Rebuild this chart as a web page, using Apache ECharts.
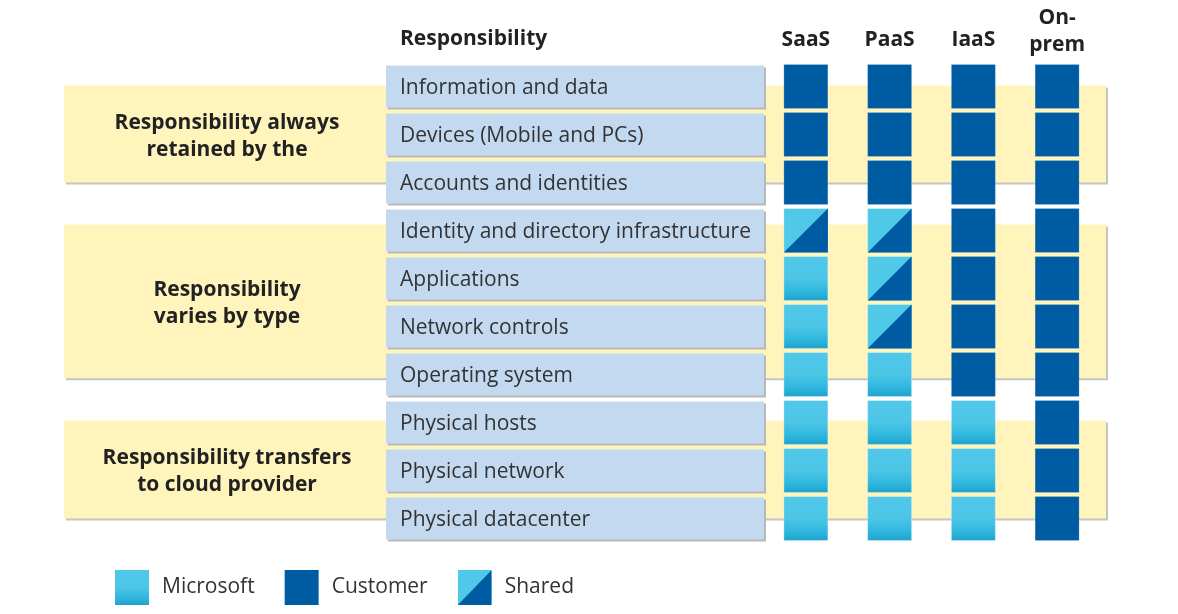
<!DOCTYPE html>
<html><head><meta charset="utf-8">
<script src="https://cdn.jsdelivr.net/npm/echarts@6/dist/echarts.min.js"></script>
<style>html,body{margin:0;padding:0;background:#fff}#c{width:1178px;height:614px}</style>
</head><body><div id="c"></div>
<script>
// ---- data ----
const rows = ['Information and data','Devices (Mobile and PCs)','Accounts and identities',
  'Identity and directory infrastructure','Applications','Network controls','Operating system',
  'Physical hosts','Physical network','Physical datacenter'];
const columns = ['SaaS','PaaS','IaaS','On-prem'];
// M = Microsoft, C = Customer, S = Shared  (one string per row, one letter per column)
const matrix = ['CCCC','CCCC','CCCC','SSCC','MSCC','MSCC','MMCC','MMMC','MMMC','MMMC'];
const groupNames = ['Responsibility always\nretained by the','Responsibility\nvaries by type','Responsibility transfers\nto cloud provider'];
const groupStart = [-0.02, 2.875, 6.96];
const groupEnd = [2.0, 6.08, 9.0];
const legendNames = ['Microsoft','Customer','Shared'];

// ---- style ----
const FONT = "'Segoe UI','Open Sans','Noto Sans',sans-serif";
const DARK = '#005CA2', LIGHT = '#50C8E8';
const msGrad = () => new echarts.graphic.LinearGradient(0,0,0,1,[{offset:0,color:'#52C8E9'},{offset:0.5,color:'#4CC5E7'},{offset:0.8,color:'#2EB6DE'},{offset:1,color:'#1FA2CB'}]);
const TILE = 44;
const L = {top:62.5, height:480, bandLeft:64, bandRight:1106, labelLeft:386, labelRight:764, tileLeft:764, tileWidth:335};

const cellsOf = t => { const out=[]; matrix.forEach((r,ri)=>{ r.split('').forEach((v,ci)=>{ if(v===t) out.push([ci,ri]); }); }); return out; };

function tileItem(type){
  return function(params, api){
    const p = api.coord([api.value(0), api.value(1)]);
    const x = p[0]-TILE/2, y = p[1]-TILE/2;
    if(type==='C'){
      return {type:'rect', shape:{x,y,width:TILE,height:TILE}, style:{fill:DARK, stroke:'rgba(255,255,255,0.18)', lineWidth:1}};
    }
    if(type==='M'){
      return {type:'rect', shape:{x,y,width:TILE,height:TILE}, style:{fill:msGrad(), stroke:'rgba(255,255,255,0.3)', lineWidth:1}};
    }
    return {type:'group', children:[
      {type:'rect', shape:{x,y,width:TILE,height:TILE}, style:{fill:LIGHT, stroke:'rgba(255,255,255,0.3)', lineWidth:1}},
      {type:'polygon', shape:{points:[[x,y+TILE],[x+TILE,y+TILE],[x+TILE,y]]}, style:{fill:DARK}}
    ]};
  };
}

const sharedIcon = 'image://data:image/svg+xml;charset=utf-8,' + encodeURIComponent(
  "<svg xmlns='http://www.w3.org/2000/svg' width='34' height='35'><rect width='34' height='35' fill='"+LIGHT+"'/><polygon points='0,35 34,35 34,0' fill='"+DARK+"'/></svg>");

const chart = echarts.init(document.getElementById('c'), null, {renderer:'canvas'});
const option = {
  animation:false,
  title:{text:'Responsibility', left:395, top:24, textStyle:{fontFamily:FONT, fontSize:21, fontWeight:'bold', color:'#222'}},
  legend:{
    left:110, top:565, itemWidth:34, itemHeight:35, itemGap:30, selectedMode:false,
    textStyle:{fontFamily:FONT, fontSize:21, color:'#333', padding:[0,0,0,8]},
    data:[
      {name:legendNames[0], icon:'rect', itemStyle:{color:msGrad()}},
      {name:legendNames[1], icon:'rect', itemStyle:{color:DARK}},
      {name:legendNames[2], icon:sharedIcon}
    ]
  },
  grid:[
    {left:L.bandLeft, width:L.bandRight-L.bandLeft, top:L.top, height:L.height, outerBoundsMode:'none', containLabel:false},
    {left:L.labelLeft, width:L.labelRight-L.labelLeft, top:L.top, height:L.height, outerBoundsMode:'none', containLabel:false},
    {left:L.tileLeft, width:L.tileWidth, top:L.top, height:L.height, outerBoundsMode:'none', containLabel:false}
  ],
  xAxis:[
    {gridIndex:0, type:'value', min:0, max:1, show:false},
    {gridIndex:1, type:'value', min:0, max:1, show:false},
    {gridIndex:2, type:'category', data:columns, position:'top',
      axisLine:{show:false}, axisTick:{show:false}, splitLine:{show:false},
      axisLabel:{interval:0, hideOverlap:false, margin:4, fontFamily:FONT, fontSize:21, fontWeight:'bold', color:'#222', lineHeight:27,
        formatter:v=> v==='On-prem' ? '{m|On-}\n{m|prem}' : '{m|'+v+'}\n{g| }',
        rich:{
          m:{fontFamily:FONT, fontSize:21, fontWeight:'bold', color:'#222', lineHeight:27},
          g:{fontSize:2, lineHeight:5}
        }}}
  ],
  yAxis:[
    {gridIndex:0, type:'value', min:-0.5, max:rows.length-0.5, inverse:true, show:false},
    {gridIndex:1, type:'category', data:rows, inverse:true, show:false},
    {gridIndex:2, type:'category', data:rows, inverse:true, show:false}
  ],
  series:[
    {type:'custom', name:'bands', xAxisIndex:0, yAxisIndex:0, silent:true, z:1,
      data:groupNames.map((n,i)=>[0,1,groupStart[i],groupEnd[i],n]),
      renderItem:function(params, api){
        const p0 = api.coord([api.value(0), api.value(2)]);
        const p1 = api.coord([api.value(1), api.value(3)]);
        const name = groupNames[params.dataIndex];
        return {type:'group', children:[
          {type:'rect', shape:{x:p0[0], y:p0[1], width:p1[0]-p0[0], height:p1[1]-p0[1]},
            style:{fill:'#FFF4BC', shadowColor:'#C4C4C4', shadowBlur:0, shadowOffsetX:2, shadowOffsetY:2}},
          {type:'text', x:(L.bandLeft+L.labelLeft)/2+2, y:(p0[1]+p1[1])/2+2,
            style:{text:name, fill:'#222', font:'bold 21px '+FONT, lineHeight:27, align:'center', verticalAlign:'middle'}}
        ]};
      }},
    {type:'bar', name:'rows', xAxisIndex:1, yAxisIndex:1, silent:true, z:3, barWidth:42,
      data:rows.map(()=>1),
      itemStyle:{color:'#C3D9F0', shadowColor:'#B8B8B8', shadowBlur:0, shadowOffsetX:2, shadowOffsetY:2},
      label:{show:true, position:'insideLeft', distance:14, offset:[0,2], formatter:'{b}', fontFamily:FONT, fontSize:21, color:'#333'}},
    {type:'custom', name:legendNames[0], xAxisIndex:2, yAxisIndex:2, z:4, silent:true,
      itemStyle:{color:LIGHT}, data:cellsOf('M'), renderItem:tileItem('M')},
    {type:'custom', name:legendNames[1], xAxisIndex:2, yAxisIndex:2, z:4, silent:true,
      itemStyle:{color:DARK}, data:cellsOf('C'), renderItem:tileItem('C')},
    {type:'custom', name:legendNames[2], xAxisIndex:2, yAxisIndex:2, z:4, silent:true,
      itemStyle:{color:LIGHT}, data:cellsOf('S'), renderItem:tileItem('S')}
  ]
};
chart.setOption(option);
</script></body></html>
